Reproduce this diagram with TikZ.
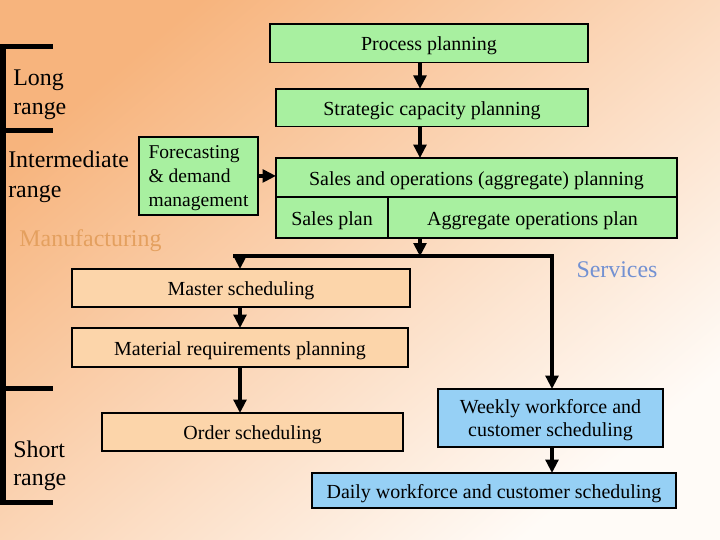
\documentclass[tikz,border=0pt]{standalone}
\usepackage{fontspec}
\setmainfont{Liberation Serif}
\usetikzlibrary{positioning,arrows.meta}
\definecolor{boxgreen}{RGB}{168,240,160}
\definecolor{boxpeach}{RGB}{252,213,170}
\definecolor{boxblue}{RGB}{150,208,245}
\definecolor{mfgtext}{RGB}{228,160,95}
\definecolor{svctext}{RGB}{115,145,210}
\definecolor{bgdeep}{RGB}{247,180,125}
\definecolor{bgmid}{RGB}{252,216,186}
\definecolor{bglight}{RGB}{255,251,247}

\begin{document}
\begin{tikzpicture}[
    box/.style={draw, line width=1.3pt, inner sep=0pt, outer sep=0pt, align=center, text height=11pt, text depth=0pt, font=\fontsize{14.2}{17}\selectfont},
    planbox/.style={box, fill=boxgreen},
    mfgbox/.style={box, fill=boxpeach},
    svcbox/.style={box, fill=boxblue},
    rangelabel/.style={inner sep=0pt, align=left, anchor=west, font=\fontsize{17}{20}\selectfont},
    sidelabel/.style={inner sep=0pt, font=\fontsize{17}{20}\selectfont},
    arr/.style={line width=2.85pt, -{Triangle[length=9.5pt,width=9pt]}}]
        % background
        \shade[top color=bgdeep, middle color=bgmid, bottom color=bglight, shading angle=40] (0,0) rectangle (18,-13.5);
        \useasboundingbox (0,0) rectangle (18,-13.5);

        % planning chain
        \node[planbox, minimum width=7.95cm, minimum height=0.96cm] (proc) at (10.725,-1.081) {Process planning};
        \node[planbox, below=0.66cm of proc, xshift=0.075cm, minimum width=7.8cm, minimum height=0.94cm] (strat) {Strategic capacity planning};
        \node[planbox, below=0.79cm of strat, xshift=1.1125cm, minimum width=10.025cm, minimum height=0.975cm] (sop) {Sales and operations (aggregate) planning};
        \node[planbox, below right=0pt and 0pt of sop.south west, minimum width=2.8cm, minimum height=1.025cm] (splan) {Sales plan};
        \node[planbox, right=0pt of splan, minimum width=7.225cm, minimum height=1.025cm] (aplan) {Aggregate operations plan};
        \node[planbox, left=0.45cm of sop, yshift=0.04cm, align=left, text height=, minimum width=2.975cm, minimum height=1.95cm, font=\fontsize{13.9}{17}\selectfont] (fore) {Forecasting\\\& demand\\management};

        % manufacturing side
        \node[mfgbox, minimum width=8.45cm, minimum height=0.95cm] (master) at (6.025,-7.2) {Master scheduling};
        \node[mfgbox, below=0.525cm of master, xshift=-0.025cm, minimum width=8.4cm, minimum height=0.975cm] (mrp) {Material requirements planning};
        \node[mfgbox, below=1.15cm of mrp, xshift=0.3125cm, minimum width=7.525cm, minimum height=0.95cm] (order) {Order scheduling};

        % services side
        \node[svcbox, text height=, minimum width=5.625cm, minimum height=1.45cm] (weekly) at (13.7625,-10.45) {Weekly workforce and\\customer scheduling};
        \node[svcbox, below=0.65cm of weekly, xshift=-1.4125cm, minimum width=9.1cm, minimum height=0.875cm] (daily) {Daily workforce and customer scheduling};

        % range labels
        \node[rangelabel] (long) at (0.325,-2.37) {Long\\range};
        \node[rangelabel, font=\fontsize{17}{21.3}\selectfont] (inter) at (0.2,-4.43) {Intermediate\\range};
        \node[rangelabel] (short) at (0.325,-11.65) {Short\\range};
        \node[sidelabel, text=mfgtext] (mfg) at (2.2625,-6.02) {Manufacturing};
        \node[sidelabel, text=svctext] (svc) at (15.425,-6.75) {Services};

        % bracket
        \draw[line width=3.56pt] (1.325,-1.15) -- (0.075,-1.15) -- (0.075,-12.55) -- (1.325,-12.55);
        \draw[line width=3.56pt] (0.075,-3.25) -- (1.325,-3.25);
        \draw[line width=3.56pt] (0.075,-9.7) -- (1.325,-9.7);

        % connectors
        \coordinate (spine) at (10.5,-6.41);
        \coordinate (mfgx) at (6.0,-6.41);
        \coordinate (svcx) at (13.8,-6.41);
        \draw[arr] (spine |- proc.south) -- (spine |- strat.north);
        \draw[arr] (spine |- strat.south) -- (spine |- sop.north);
        \draw[arr] (fore.east) -- (fore.east -| sop.west);
        \draw[arr] (spine |- aplan.south) -- (spine);
        \draw[arr] ([xshift=-0.175cm]mfgx) -- (svcx) -- (svcx |- weekly.north);
        \draw[arr] (mfgx) -- (mfgx |- master.north);
        \draw[arr] (mfgx |- master.south) -- (mfgx |- mrp.north);
        \draw[arr] (mfgx |- mrp.south) -- (mfgx |- order.north);
        \draw[arr] (svcx |- weekly.south) -- (svcx |- daily.north);
    \end{tikzpicture}
\end{document}
